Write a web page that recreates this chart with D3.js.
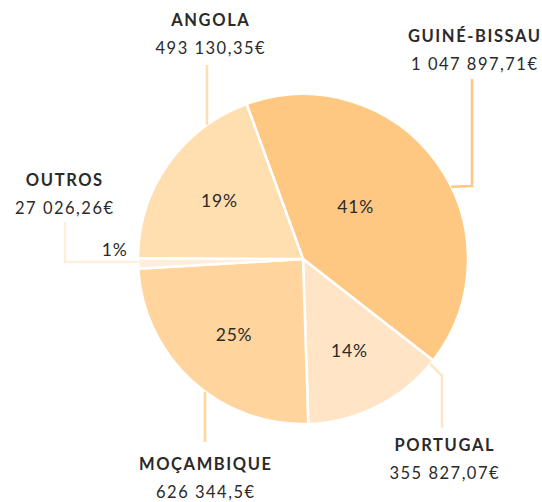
<!DOCTYPE html>
<html>
<head>
<meta charset="utf-8">
<script src="https://cdn.jsdelivr.net/npm/d3@7"></script>
<style>
  body { margin: 0; background: #fff; }
  text { font-family: Lato, "Open Sans", sans-serif; fill: #2b2a29; }
</style>
</head>
<body>
<div id="chart"></div>
<script>
// dados
var paises = ["GUINÉ-BISSAU", "PORTUGAL", "MOÇAMBIQUE", "OUTROS", "ANGOLA"];
var valores = [1047897.71, 355827.07, 626344.5, 27026.26, 493130.35];
var valoresTexto = ["1 047 897,71€", "355 827,07€", "626 344,5€", "27 026,26€", "493 130,35€"];
var cores = ["#fec883", "#ffe5c6", "#ffd59d", "#ffeedc", "#ffdeb0"];

var width = 542, height = 502;
var cx = 303, cy = 259, R = 165;

var svg = d3.select("#chart")
    .append("svg")
    .attr("width", width)
    .attr("height", height);

var g = svg.append("g")
    .attr("transform", "translate(" + cx + "," + cy + ")");

var dados = paises.map(function(p, i) {
    return {nome: p, valor: valores[i], texto: valoresTexto[i], cor: cores[i]};
});
var total = d3.sum(valores);

var pie = d3.pie()
    .sort(null)
    .value(function(d) { return d.valor; })
    .startAngle(-20 * Math.PI / 180)
    .endAngle(340 * Math.PI / 180);

var arc = d3.arc().innerRadius(0).outerRadius(R);
var arcLabel = d3.arc().innerRadius(R * 0.62).outerRadius(R * 0.62);

var fatias = pie(dados);

// fatias
g.selectAll("path.fatia")
    .data(fatias)
    .enter()
    .append("path")
    .attr("class", "fatia")
    .attr("d", arc)
    .attr("fill", function(d) { return d.data.cor; })
    .attr("stroke", "#fff")
    .attr("stroke-width", 2.5)
    .attr("stroke-linejoin", "round");

// percentagens (ajustes para GB e Outros)
var ajustes = {
    "GUINÉ-BISSAU": [-30, 8],
    "OUTROS": [-86, -12]
};
g.selectAll("text.pct")
    .data(fatias)
    .enter()
    .append("text")
    .attr("class", "pct")
    .attr("text-anchor", "middle")
    .attr("dominant-baseline", "central")
    .attr("font-size", 17.5)
    .attr("letter-spacing", 0.8)
    .attr("transform", function(d) {
        var c = arcLabel.centroid(d);
        var a = ajustes[d.data.nome] || [0, 0];
        return "translate(" + (c[0] + a[0]) + "," + (c[1] + a[1]) + ")";
    })
    .text(function(d) { return Math.round(d.data.valor / total * 100) + "%"; });

// linhas de chamada e etiquetas
function ponto(ang) {
    var a = ang * Math.PI / 180;
    return [R * Math.sin(a), -R * Math.cos(a)];
}

var chamadas = {
    "ANGOLA":       {ang: 324.4, via: null,      fim: [-96, -194], lx: -93, ly: -233},
    "GUINÉ-BISSAU": {ang: 64,    via: [169, -73], fim: [169, -180], lx: 171, ly: -217},
    "OUTROS":       {ang: 269,   via: [-238, 3], fim: [-238, -37], lx: -239, ly: -73},
    "PORTUGAL":     {ang: 129.5, via: [139, 117], fim: [139, 169], lx: 141, ly: 192},
    "MOÇAMBIQUE":   {ang: 216,   via: null,      fim: [-98, 183], lx: -98, ly: 211}
};

fatias.forEach(function(d) {
    var c = chamadas[d.data.nome];
    var pts = [ponto(c.ang)];
    if (c.via) {
        pts.push(c.via);
    } else {
        // linha vertical: ponto do arco na mesma abscissa
        var y = Math.sqrt(R * R - c.fim[0] * c.fim[0]) * (c.fim[1] < 0 ? -1 : 1);
        pts[0] = [c.fim[0], y];
    }
    pts.push(c.fim);

    g.append("path")
        .attr("d", d3.line()(pts))
        .attr("fill", "none")
        .attr("stroke", d.data.cor)
        .attr("stroke-width", 2.5);

    g.append("text")
        .attr("x", c.lx + 0.8)
        .attr("y", c.ly)
        .attr("text-anchor", "middle")
        .attr("font-size", 16.5)
        .attr("font-weight", "bold")
        .attr("letter-spacing", 1.6)
        .text(d.data.nome);

    g.append("text")
        .attr("x", c.lx + 0.8)
        .attr("y", c.ly + 28)
        .attr("text-anchor", "middle")
        .attr("font-size", 16.5)
        .attr("letter-spacing", 1.5)
        .text(d.data.texto);
});
</script>
</body>
</html>
